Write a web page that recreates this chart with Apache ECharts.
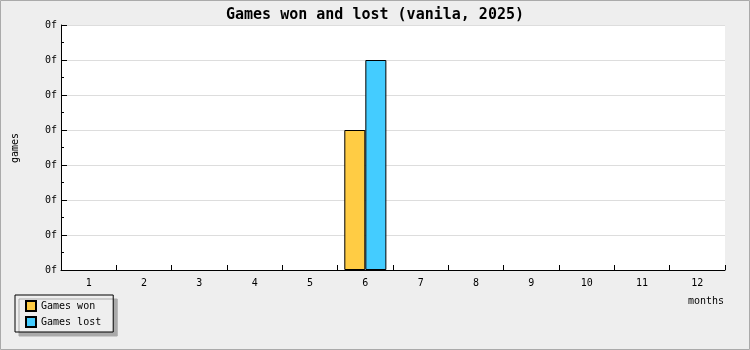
<!DOCTYPE html>
<html><head><meta charset="utf-8">
<script src="https://cdn.jsdelivr.net/npm/echarts@6/dist/echarts.min.js"></script>
<style>html,body{margin:0;padding:0;background:#eeeeee}#c{width:750px;height:350px}</style>
</head><body><div id="c"></div>
<script>
const months = ['1','2','3','4','5','6','7','8','9','10','11','12'];
const gamesWon = [0,0,0,0,0,4,0,0,0,0,0,0];
const gamesLost = [0,0,0,0,0,6,0,0,0,0,0,0];
const yTickLabel = '0f';
const FONT = 'DejaVu Sans Mono';
const hideZero = arr => arr.map(v => v === 0 ? '-' : v);
const G = {left: 61, right: 25, top: 25, bottom: 80};
const chart = echarts.init(document.getElementById('c'), null, {renderer:'canvas'});
chart.setOption({
  backgroundColor: '#eeeeee',
  animation: false,
  title: {
    text: 'Games won and lost (vanila, 2025)',
    left: 'center', top: 3,
    textStyle: {fontFamily: FONT, fontWeight: 'bold', fontSize: 15, color: '#000'}
  },
  grid: {left: G.left, right: G.right, top: G.top, bottom: G.bottom, containLabel: false, show: false},
  legend: {
    orient: 'vertical', left: 15, top: 295,
    padding: [5, 12, 4, 10],
    itemWidth: 10, itemHeight: 10, itemGap: 4,
    backgroundColor: '#eeeeee', borderColor: '#000', borderWidth: 1,
    shadowColor: '#aaaaaa', shadowBlur: 0, shadowOffsetX: 4, shadowOffsetY: 4,
    icon: 'rect',
    textStyle: {fontFamily: FONT, fontSize: 10, color: '#000'},
    data: ['Games won', 'Games lost']
  },
  xAxis: {
    type: 'category', data: months,
    axisLine: {lineStyle: {color: '#000', width: 1}},
    axisTick: {show: true, inside: true, length: 5, lineStyle: {color: '#000', width: 1}},
    axisLabel: {fontFamily: FONT, fontSize: 10, color: '#000', margin: 8},
    splitLine: {show: false}
  },
  yAxis: {
    type: 'value', min: 0, max: 7, interval: 1,
    axisLine: {show: true, lineStyle: {color: '#000', width: 1}},
    axisTick: {show: true, inside: true, length: 6, lineStyle: {color: '#000', width: 1}},
    minorTick: {show: true, splitNumber: 2, length: 3, lineStyle: {color: '#000', width: 1}},
    axisLabel: {fontFamily: FONT, fontSize: 10, color: '#000', margin: 4, formatter: () => yTickLabel},
    splitLine: {show: true, lineStyle: {color: '#dddddd'}}
  },
  series: [
    {name: 'Games won', type: 'bar', data: hideZero(gamesWon), barGap: 0, barCategoryGap: '24%',
     itemStyle: {color: '#ffcc44', borderColor: '#000', borderWidth: 1}},
    {name: 'Games lost', type: 'bar', data: hideZero(gamesLost), barGap: 0, barCategoryGap: '24%',
     itemStyle: {color: '#44ccff', borderColor: '#000', borderWidth: 1}}
  ],
  graphic: [
    {type: 'rect', z: -10, shape: {x: G.left, y: G.top, width: 750 - G.left - G.right, height: 350 - G.top - G.bottom}, style: {fill: '#ffffff'}, silent: true},
    {type: 'rect', z: 10, shape: {x: 0.5, y: 0.5, width: 749, height: 349}, style: {fill: null, stroke: '#aaaaaa', lineWidth: 1}, silent: true},
    {type: 'text', x: 724, y: 296, style: {text: 'months', font: '10px "DejaVu Sans Mono"', fill: '#000', align: 'right', verticalAlign: 'top'}},
    {type: 'text', x: 15, y: 148, rotation: Math.PI/2, style: {text: 'games', font: '10px "DejaVu Sans Mono"', fill: '#000', align: 'center', verticalAlign: 'middle'}}
  ]
});
</script></body></html>
